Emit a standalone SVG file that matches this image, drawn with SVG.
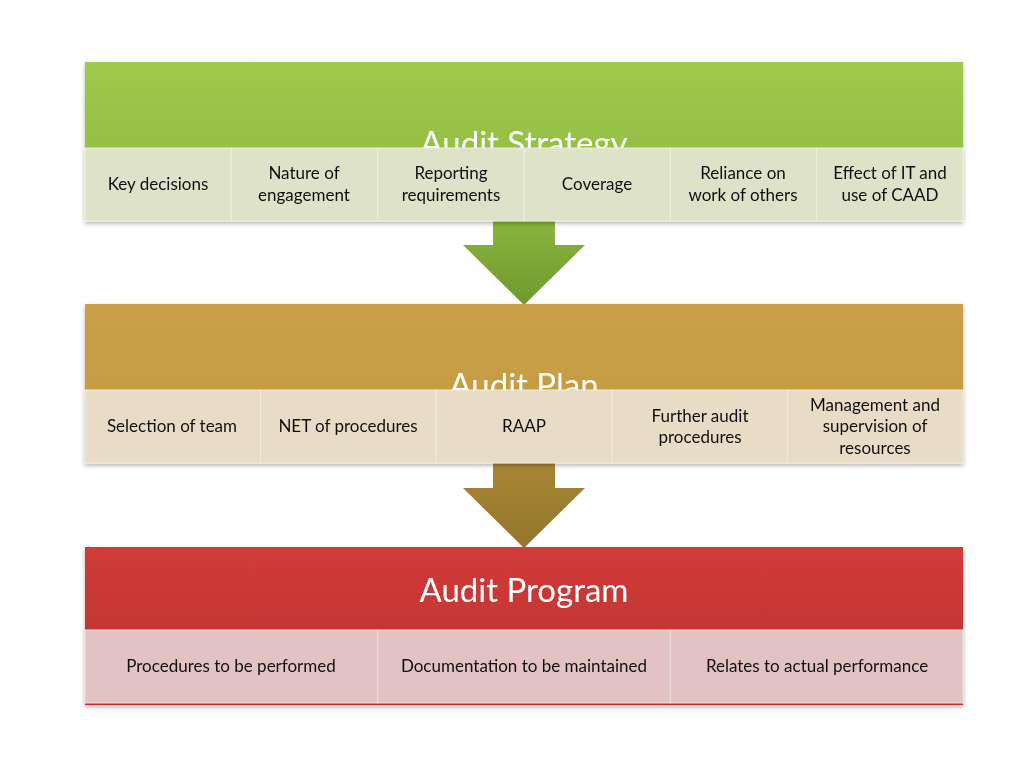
<svg xmlns="http://www.w3.org/2000/svg" width="1024" height="768" viewBox="0 0 1024 768">
<defs>
<linearGradient id="gG" x1="0" y1="0" x2="0" y2="1"><stop offset="0" stop-color="#a0c94d"/><stop offset="1" stop-color="#8bb93c"/></linearGradient>
<linearGradient id="gY" x1="0" y1="0" x2="0" y2="1"><stop offset="0" stop-color="#c99f48"/><stop offset="1" stop-color="#c49a3f"/></linearGradient>
<linearGradient id="gR" x1="0" y1="0" x2="0" y2="1"><stop offset="0" stop-color="#d13b38"/><stop offset="1" stop-color="#b9312f"/></linearGradient>
<linearGradient id="aG" x1="0" y1="0" x2="0" y2="1"><stop offset="0" stop-color="#8ab43e"/><stop offset="1" stop-color="#6f9a2e"/></linearGradient>
<linearGradient id="aY" x1="0" y1="0" x2="0" y2="1"><stop offset="0" stop-color="#a88634"/><stop offset="1" stop-color="#93762c"/></linearGradient>
<filter id="sh" x="-5%" y="-5%" width="110%" height="120%"><feDropShadow dx="0" dy="2" stdDeviation="2" flood-opacity="0.3"/></filter>
</defs>
<style>
text{font-family:Lato,"Open Sans","Liberation Sans",sans-serif;text-anchor:middle}
.t{fill:#fff;font-size:33px}
.c{fill:#111;font-size:17px}
.cg{fill:#dde2c8;stroke:#eef0e2;stroke-width:1}
.cy{fill:#e8dcc6;stroke:#f2ebde;stroke-width:1}
.cr{fill:#e3c3c1;stroke:#efdddc;stroke-width:1}
</style>
<rect width="1024" height="768" fill="#fff"/>
<g id="connectors">
<path d="M493 221H555V245H585L524 305L463 245H493Z" fill="url(#aG)"/>
<path d="M493 463H555V488H585L524 548L463 488H493Z" fill="url(#aY)"/>
</g>
<g id="strategy" filter="url(#sh)">
<rect x="85" y="62" width="878" height="159" fill="url(#gG)"/>
<text class="t" x="524" y="155">Audit Strategy</text>
<rect class="cg" x="85" y="148" width="146.3" height="73"/>
<rect class="cg" x="231.3" y="148" width="146.3" height="73"/>
<rect class="cg" x="377.7" y="148" width="146.3" height="73"/>
<rect class="cg" x="524" y="148" width="146.3" height="73"/>
<rect class="cg" x="670.3" y="148" width="146.3" height="73"/>
<rect class="cg" x="816.7" y="148" width="146.3" height="73"/>
<text class="c" x="158" y="190">Key decisions</text>
<text class="c" x="304" y="179">Nature of</text><text class="c" x="304" y="201">engagement</text>
<text class="c" x="451" y="179">Reporting</text><text class="c" x="451" y="201">requirements</text>
<text class="c" x="597" y="190">Coverage</text>
<text class="c" x="743" y="179">Reliance on</text><text class="c" x="743" y="201">work of others</text>
<text class="c" x="890" y="179">Effect of IT and</text><text class="c" x="890" y="201">use of CAAD</text>
</g>
<g id="plan" filter="url(#sh)">
<rect x="85" y="304" width="878" height="159" fill="url(#gY)"/>
<text class="t" x="524" y="397">Audit Plan</text>
<rect class="cy" x="85" y="390" width="175.6" height="73"/>
<rect class="cy" x="260.6" y="390" width="175.6" height="73"/>
<rect class="cy" x="436.2" y="390" width="175.6" height="73"/>
<rect class="cy" x="611.8" y="390" width="175.6" height="73"/>
<rect class="cy" x="787.4" y="390" width="175.6" height="73"/>
<text class="c" x="172" y="432">Selection of team</text>
<text class="c" x="348" y="432">NET of procedures</text>
<text class="c" x="524" y="432">RAAP</text>
<text class="c" x="700" y="422">Further audit</text><text class="c" x="700" y="443">procedures</text>
<text class="c" x="875" y="411">Management and</text><text class="c" x="875" y="432">supervision of</text><text class="c" x="875" y="454">resources</text>
</g>
<g id="program" filter="url(#sh)">
<rect x="85" y="547" width="878" height="158" fill="url(#gR)"/>
<text class="t" x="524" y="602">Audit Program</text>
<rect class="cr" x="85" y="630" width="292.7" height="73"/>
<rect class="cr" x="377.7" y="630" width="292.7" height="73"/>
<rect class="cr" x="670.3" y="630" width="292.7" height="73"/>
<text class="c" x="231" y="672">Procedures to be performed</text>
<text class="c" x="524" y="672">Documentation to be maintained</text>
<text class="c" x="817" y="672">Relates to actual performance</text>
</g>
</svg>
